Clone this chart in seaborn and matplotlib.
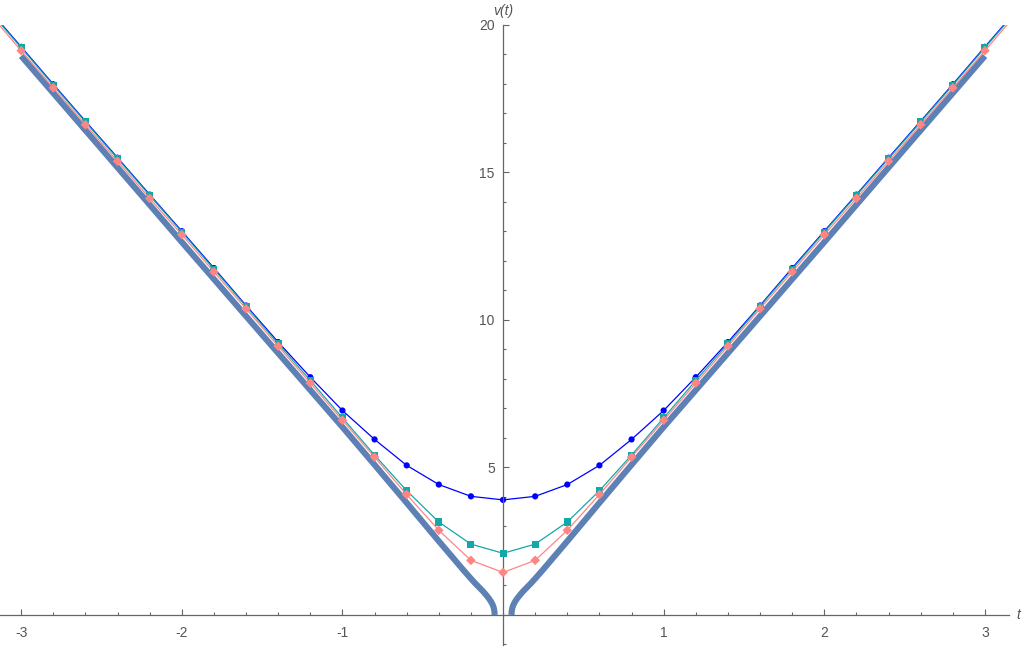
import numpy as np
import matplotlib
matplotlib.use("Agg")
import matplotlib.pyplot as plt
from matplotlib.ticker import FixedLocator, MultipleLocator
import seaborn as sns

sns.set_style("white")
plt.rcParams["font.family"] = ["Liberation Sans", "DejaVu Sans"]

# ------------------------------------------------------------
# data
# ------------------------------------------------------------
t_pts = [-3.0, -2.8, -2.6, -2.4, -2.2, -2.0, -1.8, -1.6, -1.4, -1.2, -1.0,
         -0.8, -0.6, -0.4, -0.2, 0.0, 0.2, 0.4, 0.6, 0.8, 1.0,
         1.2, 1.4, 1.6, 1.8, 2.0, 2.2, 2.4, 2.6, 2.8, 3.0]

v_blue = [19.26, 17.99, 16.74, 15.50, 14.25, 13.01, 11.76, 10.49, 9.25, 8.06, 6.93,
          5.95, 5.07, 4.42, 4.02, 3.90, 4.02, 4.42, 5.07, 5.95, 6.93,
          8.06, 9.25, 10.49, 11.76, 13.01, 14.25, 15.50, 16.74, 17.99, 19.26]

v_teal = [19.23, 17.96, 16.71, 15.47, 14.22, 12.98, 11.72, 10.46, 9.19, 7.95, 6.68,
          5.42, 4.21, 3.15, 2.40, 2.09, 2.40, 3.15, 4.21, 5.42, 6.68,
          7.95, 9.19, 10.46, 11.72, 12.98, 14.22, 15.47, 16.71, 17.96, 19.23]

v_pink = [19.13, 17.87, 16.62, 15.38, 14.12, 12.89, 11.63, 10.38, 9.11, 7.86, 6.60,
          5.35, 4.08, 2.87, 1.85, 1.44, 1.85, 2.87, 4.08, 5.35, 6.60,
          7.86, 9.11, 10.38, 11.63, 12.89, 14.12, 15.38, 16.62, 17.87, 19.13]

# the thin lines run on to the edge of the plot (t = +-pi)
t_edge = [-3.1416, 3.1416]
v_blue_edge = [20.15, 20.15]
v_teal_edge = [20.12, 20.12]
v_pink_edge = [20.03, 20.03]

# thick curve, two branches
t_thick_r = [0.052, 0.053, 0.055, 0.058, 0.062, 0.068, 0.076, 0.087, 0.1, 0.115,
             0.13, 0.15, 0.175, 0.2, 0.25, 0.3, 0.4, 0.6, 0.8, 1.0,
             1.5, 2.0, 2.5, 3.0]
v_thick_r = [0.0, 0.08, 0.16, 0.24, 0.31, 0.38, 0.46, 0.55, 0.64, 0.74,
             0.83, 0.94, 1.08, 1.23, 1.54, 1.86, 2.50, 3.80, 5.09, 6.37,
             9.5, 12.64, 15.8, 18.95]
t_thick_l = [-3.0, -2.5, -2.0, -1.5, -1.0, -0.8, -0.6, -0.4, -0.3, -0.25,
             -0.2, -0.175, -0.15, -0.13, -0.115, -0.1, -0.087, -0.076, -0.068, -0.062,
             -0.058, -0.055, -0.053, -0.052]
v_thick_l = [18.95, 15.8, 12.64, 9.5, 6.37, 5.09, 3.80, 2.50, 1.86, 1.54,
             1.23, 1.08, 0.94, 0.83, 0.74, 0.64, 0.55, 0.46, 0.38, 0.31,
             0.24, 0.16, 0.08, 0.0]

x_major = [-3, -2, -1, 1, 2, 3]
y_major = [5, 10, 15, 20]

c_thick = "#5E81B5"
c_blue = "#0000FF"
c_teal = "#13A8A8"
c_pink = "#FF8585"
c_axis = "#666666"
c_text = "#555555"

# ------------------------------------------------------------
# figure
# ------------------------------------------------------------
fig = plt.figure(figsize=(10.22, 6.48), dpi=100)
ax = fig.add_axes([0.0, 3 / 648, 1009 / 1022, 620 / 648])

# thick curve
for tt, vv in [(t_thick_l, v_thick_l), (t_thick_r, v_thick_r)]:
    sns.lineplot(x=tt, y=vv, ax=ax, color=c_thick, lw=4.4, sort=False,
                 estimator=None, zorder=1, solid_capstyle="butt",
                 solid_joinstyle="round")

# thin series: line to the edges + markers at the sample points
series = [
    (v_blue, v_blue_edge, c_blue, "o", 20, 2),
    (v_teal, v_teal_edge, c_teal, "s", 26, 3),
    (v_pink, v_pink_edge, c_pink, "D", 24, 4),
]
for vals, edge, col, mk, size, z in series:
    t_line = [t_edge[0]] + t_pts + [t_edge[1]]
    v_line = [edge[0]] + vals + [edge[1]]
    sns.lineplot(x=t_line, y=v_line, ax=ax, color=col, lw=0.9, sort=False,
                 estimator=None, zorder=z)
    sns.scatterplot(x=t_pts, y=vals, ax=ax, color=col, marker=mk, s=size,
                    edgecolor="none", linewidth=0, zorder=z + 0.5)

ax.set_xlim(-3.132, 3.15)
ax.set_ylim(-1.02, 20)

# Mathematica-like axes through the origin
for side in ["top", "right"]:
    ax.spines[side].set_visible(False)
ax.spines["left"].set_position(("data", 0))
ax.spines["bottom"].set_position(("data", 0))
for side in ["left", "bottom"]:
    ax.spines[side].set_color(c_axis)
    ax.spines[side].set_linewidth(0.9)

ax.xaxis.set_major_locator(FixedLocator(x_major))
ax.yaxis.set_major_locator(FixedLocator(y_major))
ax.xaxis.set_minor_locator(MultipleLocator(0.2))
ax.yaxis.set_minor_locator(MultipleLocator(1))
ax.set_xticklabels([str(v) for v in x_major])
ax.set_yticklabels([str(v) for v in y_major])

ax.tick_params(which="both", direction="in", color=c_axis, width=0.8,
               bottom=True, left=True, top=False, right=False,
               labelcolor=c_text, labelsize=10)
ax.tick_params(which="major", length=4.5)
ax.tick_params(which="minor", length=2.5)
ax.tick_params(axis="x", pad=8)
ax.tick_params(axis="y", pad=6)
ax.set_xlabel("")
ax.set_ylabel("")
ax.patch.set_alpha(0)

ax.annotate("t", xy=(1, 0), xycoords=("axes fraction", "data"),
            xytext=(7, 0), textcoords="offset points", ha="center", va="center",
            fontsize=10, style="italic", color=c_text, annotation_clip=False)
ax.annotate("v(t)", xy=(0, 20), xycoords="data",
            xytext=(0, 10), textcoords="offset points", ha="center", va="center",
            fontsize=10, style="italic", color=c_text, annotation_clip=False)

fig.savefig("out.png", dpi=100)
plt.close(fig)
